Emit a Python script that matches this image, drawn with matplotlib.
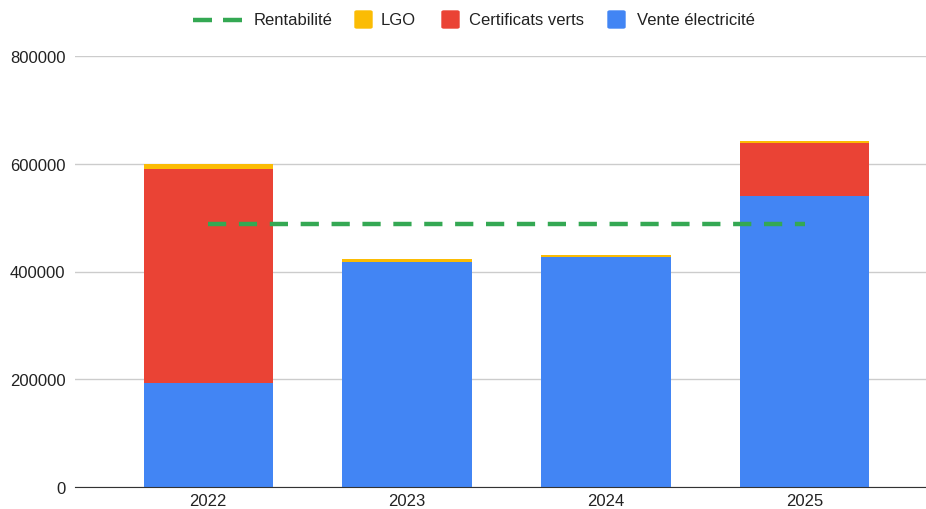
import matplotlib
matplotlib.use("Agg")
import matplotlib.pyplot as plt
from matplotlib.patches import FancyBboxPatch
from matplotlib.lines import Line2D
import numpy as np

years = ["2022", "2023", "2024", "2025"]
vente = [193000, 418000, 426000, 541000]
certificats = [397000, 0, 0, 98000]
lgo = [10000, 5000, 5000, 3000]
rentabilite = [488000, 488000, 488000, 488000]
legend_labels = ["Rentabilité", "LGO", "Certificats verts", "Vente électricité"]

plt.rcParams['font.family'] = ['Liberation Sans', 'DejaVu Sans']

W, H = 926, 510
fig = plt.figure(figsize=(W / 100, H / 100), dpi=100)
ax = fig.add_axes([75 / W, 1 - 488 / H, (W - 75) / W, (488 - 57) / H])

x = np.arange(len(years))
w = 0.65
blue = "#4285F4"; red = "#EA4335"; yellow = "#FBBC04"; green = "#34A853"
ax.bar(x, vente, w, color=blue, zorder=2)
ax.bar(x, certificats, w, bottom=vente, color=red, zorder=2)
bot2 = np.array(vente) + np.array(certificats)
ax.bar(x, lgo, w, bottom=bot2, color=yellow, zorder=2)
ax.plot(x, rentabilite, color=green, lw=3.2, ls=(0, (4.1, 2.85)),
        solid_capstyle='butt', dash_capstyle='butt', zorder=3)

ax.set_xlim(-0.67, 3.61)
ax.set_ylim(0, 800000)
ax.set_yticks([0, 200000, 400000, 600000, 800000])
ax.set_yticklabels(["0", "200000", "400000", "600000", "800000"])
ax.set_xticks(x)
ax.set_xticklabels(years)
ax.grid(axis='y', color="#cccccc", lw=1, zorder=0)
for s in ["top", "right", "left"]:
    ax.spines[s].set_visible(False)
ax.spines["bottom"].set_color("#333333")
ax.tick_params(axis='both', length=0, labelsize=12, colors="#222222")
ax.tick_params(axis='y', pad=7)
ax.tick_params(axis='x', pad=4.5)

# manual legend in pixel coordinates
def fx(px): return px / W
def fy(py): return 1 - py / H

ly = 20.5
fig.add_artist(Line2D([fx(193), fx(212)], [fy(ly), fy(ly)], color=green, lw=3.2,
                      solid_capstyle='butt', transform=fig.transFigure))
fig.add_artist(Line2D([fx(223), fx(242)], [fy(ly), fy(ly)], color=green, lw=3.2,
                      solid_capstyle='butt', transform=fig.transFigure))
fig.text(fx(254), fy(ly), legend_labels[0], fontsize=12, color="#222222", va="center", ha="left")
for sx, tx, col, lab in [(355, 381, yellow, legend_labels[1]),
                         (442, 469, red, legend_labels[2]),
                         (608, 637, blue, legend_labels[3])]:
    fig.add_artist(FancyBboxPatch((fx(sx), fy(ly + 8.5)), fx(17), 17 / H,
                                  boxstyle="round,pad=0,rounding_size=0.002",
                                  color=col, transform=fig.transFigure))
    fig.text(fx(tx), fy(ly), lab, fontsize=12, color="#222222", va="center", ha="left")

fig.savefig("out.png", dpi=100)
